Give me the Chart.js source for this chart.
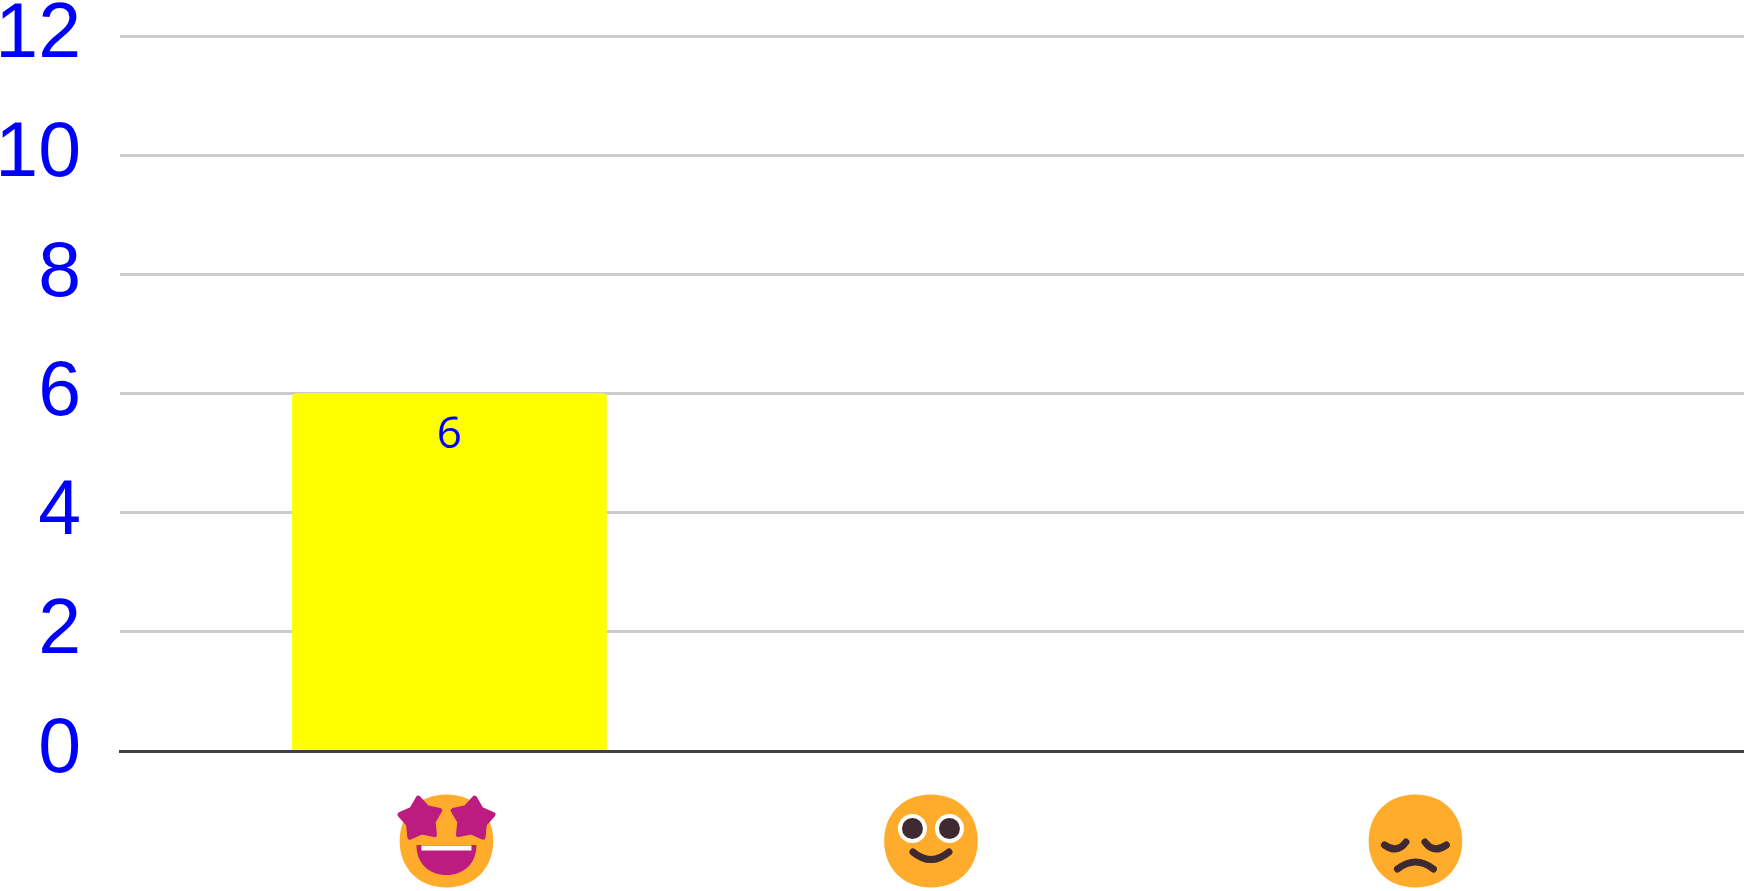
<!DOCTYPE html>
<html>
<head>
<meta charset="utf-8">
<style>html,body{margin:0;padding:0;background:#fff}canvas{display:block}</style>
<script src="https://cdn.jsdelivr.net/npm/chart.js@4"></script>
</head>
<body>
<canvas id="c" width="1744" height="891"></canvas>
<script>
const categories = ['🤩', '🙂', '😔'];
const seriesValues = [6, 0, 0];
const yTicks = [0, 2, 4, 6, 8, 10, 12];

const FACE = '#FFAC2C', PINK = '#BC1C80', DARK = '#402A32';

function face(ctx) {
  const h = 46.5, w = 46.8, kx = 28, ky = 27;
  ctx.beginPath();
  ctx.moveTo(0, -h);
  ctx.bezierCurveTo(kx, -h, w, -ky, w, 0);
  ctx.bezierCurveTo(w, ky, kx, h, 0, h);
  ctx.bezierCurveTo(-kx, h, -w, ky, -w, 0);
  ctx.bezierCurveTo(-w, -ky, -kx, -h, 0, -h);
  ctx.closePath();
  ctx.fillStyle = FACE;
  ctx.fill();
}
function star(ctx, cx, cy, rot) {
  ctx.save();
  ctx.translate(cx, cy);
  ctx.rotate(rot);
  ctx.beginPath();
  for (let i = 0; i < 10; i++) {
    const r = i % 2 ? 13 : 21;
    const a = -Math.PI / 2 + i * Math.PI / 5;
    ctx[i ? 'lineTo' : 'moveTo'](r * Math.cos(a), r * Math.sin(a));
  }
  ctx.closePath();
  ctx.fillStyle = PINK;
  ctx.strokeStyle = PINK;
  ctx.lineWidth = 5;
  ctx.lineJoin = 'round';
  ctx.fill();
  ctx.stroke();
  ctx.restore();
}
function stroke(ctx, w, pts) {
  ctx.beginPath();
  ctx.moveTo(pts[0], pts[1]);
  ctx.quadraticCurveTo(pts[2], pts[3], pts[4], pts[5]);
  ctx.strokeStyle = DARK;
  ctx.lineWidth = w;
  ctx.lineCap = 'round';
  ctx.stroke();
}
const glyphs = [
  function (ctx) {
    face(ctx);
    star(ctx, -26, -22, -0.1);
    star(ctx, 26, -22, 0.1);
    ctx.beginPath();
    ctx.moveTo(-30, 4);
    ctx.lineTo(30, 4);
    ctx.bezierCurveTo(30, 24, 16, 34, 0, 34);
    ctx.bezierCurveTo(-16, 34, -30, 24, -30, 4);
    ctx.closePath();
    ctx.fillStyle = PINK;
    ctx.fill();
    ctx.fillStyle = '#fff';
    ctx.fillRect(-25, 4.5, 50, 5);
  },
  function (ctx) {
    face(ctx);
    [-18.5, 18.5].forEach(function (x) {
      ctx.beginPath(); ctx.arc(x, -12.5, 14.5, 0, 2 * Math.PI); ctx.fillStyle = '#fff'; ctx.fill();
      ctx.beginPath(); ctx.arc(x, -12.5, 10.5, 0, 2 * Math.PI); ctx.fillStyle = DARK; ctx.fill();
    });
    stroke(ctx, 7, [-18, 11, 0, 26, 18, 11]);
  },
  function (ctx) {
    face(ctx);
    stroke(ctx, 7, [-31, 4, -18, 13, -9.5, 1]);
    stroke(ctx, 7, [31, 4, 18, 13, 9.5, 1]);
    stroke(ctx, 7, [-18, 28, 0, 14, 18, 28]);
  }
];

const overlay = {
  id: 'overlay',
  afterDatasetsDraw(chart) {
    const ctx = chart.ctx;
    const bars = chart.getDatasetMeta(0).data;
    ctx.save();
    ctx.font = '44px "Open Sans"';
    ctx.fillStyle = '#0000ff';
    ctx.textAlign = 'center';
    ctx.textBaseline = 'middle';
    seriesValues.forEach(function (v, i) {
      if (v > 0) ctx.fillText(String(v), bars[i].x, bars[i].y + 42);
    });
    ctx.restore();
    const xs = chart.scales.x;
    categories.forEach(function (_, i) {
      ctx.save();
      ctx.translate(xs.getPixelForValue(i) - 3, chart.chartArea.bottom + 90);
      glyphs[i](ctx);
      ctx.restore();
    });
  }
};

new Chart(document.getElementById('c'), {
  type: 'bar',
  data: {
    datasets: [{
      data: seriesValues.map(function (v, i) { return { x: i, y: v }; }),
      backgroundColor: '#ffff00',
      barThickness: 314,
      borderRadius: { topLeft: 4, topRight: 4 },
      borderSkipped: 'bottom'
    }]
  },
  options: {
    responsive: false,
    animation: false,
    layout: { padding: { top: 36, left: 0, right: 0, bottom: 0 }, autoPadding: false },
    plugins: { legend: { display: false }, tooltip: { enabled: false } },
    scales: {
      x: {
        type: 'linear',
        offset: false,
        min: -0.68,
        max: 2.672,
        afterBuildTicks(axis) { axis.ticks = categories.map(function (_, i) { return { value: i }; }); },
        afterFit(axis) { axis.height = 140; axis.paddingLeft = 0; axis.paddingRight = 0; },
        grid: { display: false },
        border: { display: true, color: '#404040', width: 3, z: 1 },
        ticks: {
          color: 'rgba(0,0,0,0)',
          maxRotation: 0,
          autoSkip: false,
          font: { size: 12 },
          callback(value) { return categories[value]; }
        }
      },
      y: {
        min: 0,
        max: 12,
        afterBuildTicks(axis) { axis.ticks = yTicks.map(function (v) { return { value: v }; }); },
        afterFit(axis) { axis.width = 120; axis.paddingTop = 0; axis.paddingBottom = 0; },
        grid: { color: '#cccccc', lineWidth: 3, drawTicks: false },
        border: { display: false },
        ticks: {
          color: '#0000ff',
          padding: 39,
          font: { family: '"Liberation Sans"', size: 77 },
          callback(value) { return String(value); }
        }
      }
    }
  },
  plugins: [overlay]
});
</script>
</body>
</html>
